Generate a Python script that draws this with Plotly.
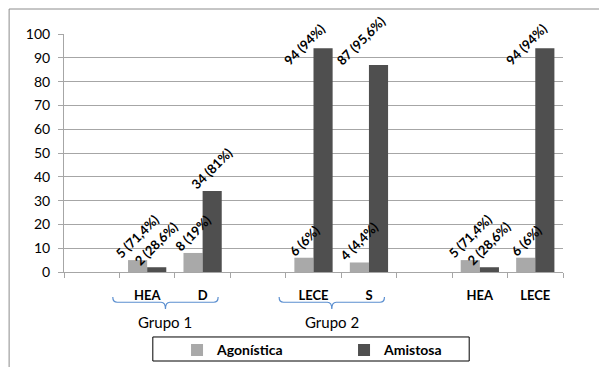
import plotly.graph_objects as go

# ---- data ----
categories = ["", "HEA", "D", "", "LECE", "S", "", "HEA", "LECE"]
agonistica = [None, 5, 8, None, 6, 4, None, 5, 6]
amistosa = [None, 2, 34, None, 94, 87, None, 2, 94]
ag_labels = ["", "5 (71,4%)", "8 (19%)", "", "6 (6%)", "4 (4,4%)", "", "5 (71,4%)", "6 (6%)"]
am_labels = ["", "2 (28,6%)", "34 (81%)", "", "94 (94%)", "87 (95,6%)", "", "2 (28,6%)", "94 (94%)"]
series_names = ["Agonística", "Amistosa"]
group_names = ["Grupo 1", "Grupo 2"]
group_members = [[1, 2], [4, 5]]
y_ticks = list(range(0, 101, 10))

FONT = "Lato"
AG_COLOR = "#a9a9a9"
AM_COLOR = "#4f4f4f"
GRID = "#a6a6a6"
BRACE = "#5b8fd0"
BARGAP = 0.31
LABEL_CAP = 86  # labels of very tall bars are held inside the chart area

x = list(range(len(categories)))
bw = (1 - BARGAP) / 2

fig = go.Figure()
fig.add_trace(go.Bar(x=x, y=agonistica, name="<b>" + series_names[0] + "</b>",
                     marker=dict(color=AG_COLOR, line=dict(width=0))))
fig.add_trace(go.Bar(x=x, y=amistosa, name="<b>" + series_names[1] + "</b>",
                     marker=dict(color=AM_COLOR, line=dict(width=0))))

annotations = []
for i in x:
    for vals, labs, off in ((agonistica, ag_labels, -bw / 2), (amistosa, am_labels, bw / 2)):
        v = vals[i]
        if v is None or not labs[i]:
            continue
        capped = v > LABEL_CAP
        annotations.append(dict(
            x=i + off, y=min(v, LABEL_CAP), xref="x", yref="y",
            text="<b>" + labs[i] + "</b>", showarrow=False, textangle=-45,
            xanchor="center", yanchor="bottom",
            xshift=-18 if capped else 0, yshift=-4,
            font=dict(family=FONT, size=13, color="#000000"),
        ))

shapes = []
# outer chart border
shapes.append(dict(type="rect", xref="paper", yref="paper", x0=-0.11, x1=1.2, y0=-0.6, y1=1.105,
                   line=dict(color="#8c8c8c", width=1), fillcolor="rgba(0,0,0,0)", layer="below"))
# legend frame
shapes.append(dict(type="rect", xref="paper", yref="paper", x0=0.178, x1=0.812, y0=-0.374, y1=-0.273,
                   line=dict(color="#000000", width=1), fillcolor="white", layer="below"))
# group braces
y_end, y_flat, y_tip = -0.105, -0.127, -0.155
for name, members in zip(group_names, group_members):
    x0 = members[0] - 0.62
    x1 = members[-1] + 0.28
    xm = (x0 + x1) / 2
    d = 0.08
    path = (f"M{x0},{y_end} Q{x0},{y_flat} {x0 + d},{y_flat} L{xm - d},{y_flat} "
            f"Q{xm},{y_flat} {xm},{y_tip} Q{xm},{y_flat} {xm + d},{y_flat} "
            f"L{x1 - d},{y_flat} Q{x1},{y_flat} {x1},{y_end}")
    shapes.append(dict(type="path", xref="x", yref="paper", path=path,
                       line=dict(color=BRACE, width=1.2)))
    annotations.append(dict(x=xm, y=-0.21, xref="x", yref="paper", text=name, showarrow=False,
                            xanchor="center", yanchor="middle",
                            font=dict(family=FONT, size=15, color="#000000")))

fig.update_layout(
    width=599, height=359,
    margin=dict(l=56, r=44, t=26, b=95, autoexpand=False),
    paper_bgcolor="white", plot_bgcolor="white",
    barmode="group", bargap=BARGAP, bargroupgap=0,
    font=dict(family=FONT, color="#000000"),
    showlegend=True,
    legend=dict(orientation="h", x=0.2265, xanchor="left", y=-0.262, yanchor="top",
                borderwidth=0, bgcolor="rgba(0,0,0,0)",
                font=dict(family=FONT, size=14, color="#000000"),
                entrywidth=122, itemwidth=30),
    shapes=shapes, annotations=annotations,
)
fig.update_yaxes(range=[0, 100], tickvals=y_ticks, showgrid=True, gridcolor=GRID, gridwidth=1,
                 showline=True, linecolor=GRID, linewidth=1, ticks="outside", ticklen=5, tickcolor=GRID,
                 ticklabelstandoff=5,
                 tickfont=dict(family=FONT, size=14, color="#000000"), zeroline=False, fixedrange=True)
fig.update_xaxes(range=[-0.5, len(categories) - 0.5], tickvals=x, ticktext=["<b>" + c + "</b>" if c else "" for c in categories],
                 ticks="", showgrid=False, showline=True, linecolor=GRID, linewidth=1, zeroline=False,
                 ticklabelstandoff=11, tickfont=dict(family=FONT, size=13, color="#000000"),
                 minor=dict(tickmode="array", tickvals=[i - 0.5 for i in range(len(categories) + 1)],
                            ticks="outside", ticklen=5, tickcolor=GRID, showgrid=False),
                 fixedrange=True)

fig.write_html("out.html")
